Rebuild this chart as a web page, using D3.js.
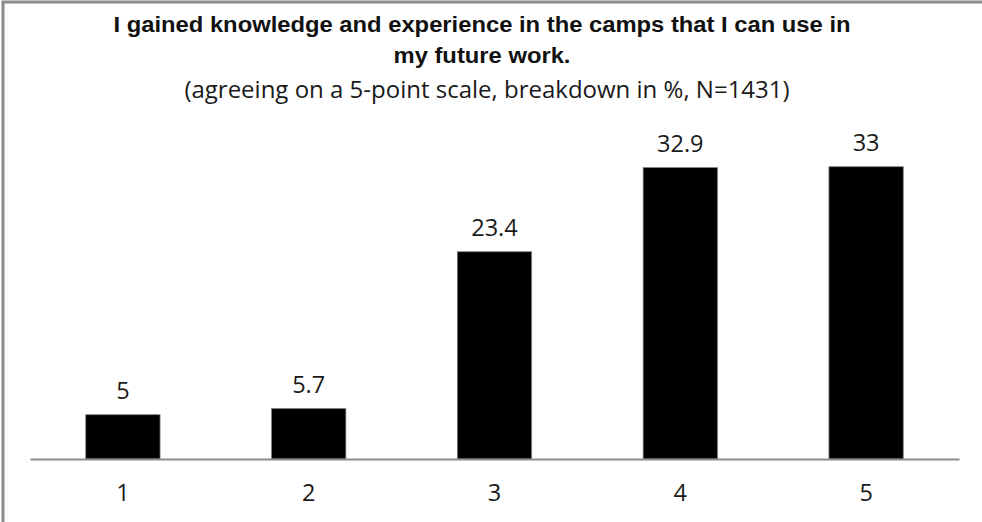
<!DOCTYPE html>
<html>
<head>
<meta charset="utf-8">
<style>
  body { margin: 0; background: #fff; }
  svg { display: block; }
</style>
</head>
<body>
<div id="chart"></div>
<script src="https://d3js.org/d3.v7.min.js"></script>
<script>
// data
var categories = ["1", "2", "3", "4", "5"];
var values = [5, 5.7, 23.4, 32.9, 33];
var titleLines = ["I gained knowledge and experience in the camps that I can use in", "my future work."];
var subtitle = "(agreeing on a 5-point scale, breakdown in %, N=1431)";

var W = 982, H = 522;
var margin = {left: 30, right: 23, top: 149, bottom: 63};

var svg = d3.select("#chart").append("svg")
    .attr("width", W)
    .attr("height", H);

// outer frame (only left and top edges show in the picture)
svg.append("rect")
    .attr("x", 3).attr("y", 2)
    .attr("width", W + 10).attr("height", H + 10)
    .attr("fill", "none")
    .attr("stroke", "#8c8c8c")
    .attr("stroke-width", 3);

var x = d3.scaleBand()
    .domain(categories)
    .range([margin.left, W - margin.right])
    .paddingInner(0.6)
    .paddingOuter(0.3);

var y = d3.scaleLinear()
    .domain([0, 35])
    .range([H - margin.bottom, margin.top]);

var font = "'Open Sans', sans-serif";

// bars
svg.append("g")
  .selectAll("rect")
  .data(values)
  .enter().append("rect")
    .attr("x", function(d, i) { return x(categories[i]); })
    .attr("y", function(d) { return y(d); })
    .attr("width", x.bandwidth())
    .attr("height", function(d) { return y(0) - y(d); })
    .attr("fill", "#000")
    .attr("stroke", "#7f7f7f")
    .attr("stroke-width", 0.8);

// value labels
svg.append("g")
  .selectAll("text")
  .data(values)
  .enter().append("text")
    .attr("x", function(d, i) { return x(categories[i]) + x.bandwidth() / 2; })
    .attr("y", function(d) { return y(d) - 16; })
    .attr("text-anchor", "middle")
    .style("font-family", font)
    .style("font-size", "23.5px")
    .attr("fill", "#1a1a1a")
    .text(function(d) { return d; });

// x axis
var xAxis = svg.append("g")
    .attr("transform", "translate(0," + y(0) + ")")
    .call(d3.axisBottom(x).tickSize(0).tickPadding(25));
xAxis.select(".domain")
    .attr("stroke", "#8c8c8c")
    .attr("stroke-width", 2);
xAxis.selectAll("text")
    .style("font-family", font)
    .style("font-size", "23.5px")
    .attr("fill", "#1a1a1a");

// titles
var title = svg.selectAll(".title")
  .data(titleLines)
  .enter().append("text")
    .attr("class", "title")
    .attr("x", 482)
    .attr("y", function(d, i) { return 32 + i * 31; })
    .attr("text-anchor", "middle")
    .style("font-family", "'Liberation Sans', Arial, sans-serif")
    .style("font-weight", "bold")
    .style("font-size", "22.5px")
    .attr("fill", "#111")
    .text(function(d) { return d; });

// the original face is narrower and taller; stretch to the same line width
var stretch = 737 / title.node().getComputedTextLength();
title.attr("textLength", function() { return this.getComputedTextLength() * stretch; })
    .attr("lengthAdjust", "spacingAndGlyphs");

svg.append("text")
    .attr("x", 487)
    .attr("y", 98)
    .attr("text-anchor", "middle")
    .style("font-family", font)
    .style("font-size", "24px")
    .attr("fill", "#1a1a1a")
    .text(subtitle);
</script>
</body>
</html>
